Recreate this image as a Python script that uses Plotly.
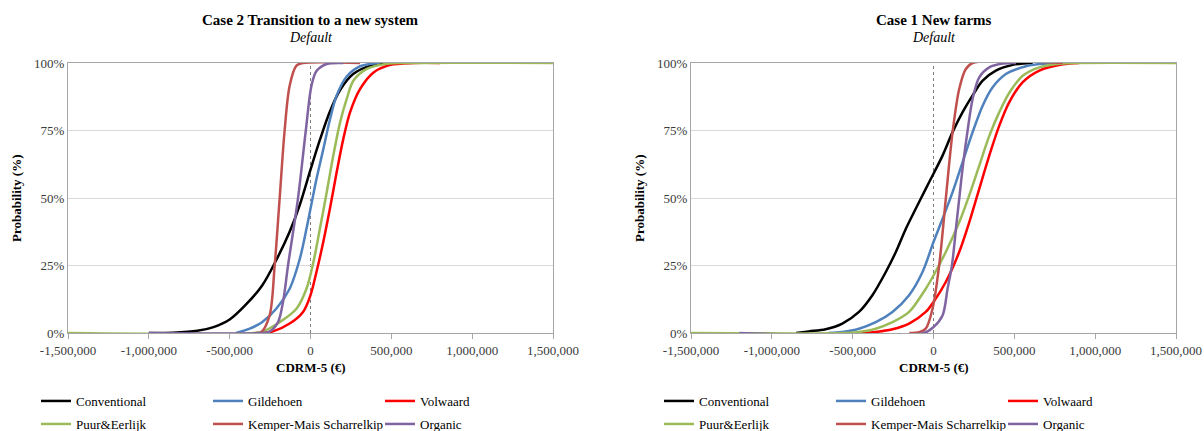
import plotly.graph_objects as go

# ---------------- data: cumulative probability (%) against CDRM-5 (EUR) ----------------
series_names = ["Conventional", "Gildehoen", "Volwaard",
                "Puur&Eerlijk", "Kemper-Mais Scharrelkip", "Organic"]
series_colors = ["#000000", "#4F81BD", "#FF0000", "#9BBB59", "#C0504D", "#8064A2"]

# Case 2 - Transition to a new system
case2_conventional_x = [-1000000, -850000, -700000, -600000, -500000, -400000, -300000, -212000,
                        -129000, -66000, 0, 58000, 120000, 183000, 266000, 390000, 515000]
case2_conventional_p = [0, 0.1, 0.8, 2.2, 5.0, 10.5, 17.5, 27.0, 37.5, 47.5, 60.5, 71.5, 82.0,
                        90.0, 96.0, 99.3, 100]

case2_gildehoen_x = [-460000, -380000, -300000, -212000, -129000, -66000, -25000, 0, 37000,
                     79000, 120000, 162000, 224000, 307000, 432000]
case2_gildehoen_p = [0, 1.5, 4.0, 9.0, 16.4, 27.5, 38.6, 46.0, 57.0, 68.0, 79.0, 88.0, 95.0,
                     98.8, 100]

case2_volwaard_x = [-330000, -232000, -129000, -46000, 0, 37000, 79000, 120000, 162000, 203000,
                    245000, 307000, 390000, 494000, 639000, 800000]
case2_volwaard_p = [0, 0.6, 3.5, 7.8, 14.0, 22.6, 33.7, 46.0, 59.6, 71.9, 81.8, 90.4, 96.5,
                    99.3, 100, 100]

case2_puur_x = [-1500000, -350000, -295000, -191000, -87000, -25000, 17000, 58000, 100000,
                141000, 183000, 224000, 266000, 349000, 473000, 600000, 1500000]
case2_puur_p = [0, 0, 0.6, 4.0, 9.0, 16.4, 26.0, 38.6, 52.0, 65.7, 78.0, 86.7, 93.5, 97.8,
                99.7, 100, 100]

case2_kemper_x = [-340000, -305000, -253000, -222000, -191000, -160000, -129000, -87000,
                  -46000, 307000]
case2_kemper_p = [0, 0.3, 6.5, 24.7, 49.7, 75.0, 91.6, 99.0, 100, 100]

case2_organic_x = [-1000000, -300000, -253000, -201000, -170000, -139000, -77000, -29000,
                   6000, 37000, 100000, 203000]
case2_organic_p = [0, 0, 0.5, 4.0, 11.5, 25.0, 50.0, 75.0, 91.6, 97.0, 99.6, 100]

# Case 1 - New farms
case1_conventional_x = [-850000, -771000, -667000, -564000, -461000, -378000, -295000, -233000,
                        -171000, -110000, -48000, 0, 56000, 118000, 180000, 242000, 304000,
                        386000, 490000, 614000]
case1_conventional_p = [0, 0.6, 1.4, 3.5, 7.8, 14.0, 22.6, 30.0, 38.6, 46.0, 53.4, 59.0, 65.7,
                        74.4, 81.8, 88.0, 93.5, 97.2, 99.3, 100]

case1_gildehoen_x = [-650000, -564000, -461000, -357000, -254000, -151000, -68000, 0, 56000,
                     118000, 180000, 242000, 304000, 366000, 448000, 572000, 655000, 800000]
case1_gildehoen_p = [0, 0.4, 1.6, 4.0, 7.8, 14.0, 22.6, 33.7, 42.3, 52.2, 63.3, 74.4, 84.2,
                     91.0, 95.9, 98.8, 99.6, 100]

case1_volwaard_x = [-450000, -357000, -254000, -151000, -48000, 0, 76000, 159000, 221000,
                    283000, 345000, 407000, 469000, 552000, 655000, 800000, 900000]
case1_volwaard_p = [0, 0.4, 1.4, 3.5, 7.8, 11.5, 18.9, 30.0, 41.0, 53.4, 65.7, 76.8, 85.5,
                    92.9, 97.2, 99.5, 100]

case1_puur_x = [-1500000, -550000, -461000, -357000, -254000, -151000, -48000, 0, 76000,
                159000, 221000, 283000, 345000, 407000, 469000, 552000, 655000, 800000,
                900000, 1500000]
case1_puur_p = [0, 0, 0.4, 1.6, 4.0, 7.8, 16.4, 21.3, 30.0, 41.0, 51.0, 62.0, 73.0, 81.8,
                89.0, 95.3, 98.4, 99.8, 100, 100]

case1_kemper_x = [-150000, -89000, -48000, -6000, 35000, 76000, 118000, 159000, 200000,
                  242000, 800000]
case1_kemper_p = [0, 0.3, 1.6, 9.0, 25.0, 49.7, 74.4, 90.4, 97.8, 100, 100]

case1_organic_x = [-1200000, -60000, 0, 56000, 87000, 114000, 143000, 159000, 184000, 211000,
                   242000, 283000, 345000, 428000, 510000]
case1_organic_p = [0, 0, 2.2, 6.5, 16.4, 25.0, 41.0, 49.7, 63.0, 75.0, 86.7, 94.7, 98.4,
                   99.8, 100]

x_tick_values = [-1500000, -1000000, -500000, 0, 500000, 1000000, 1500000]
y_tick_values = [0, 25, 50, 75, 100]

case2_series = [(case2_conventional_x, case2_conventional_p), (case2_gildehoen_x, case2_gildehoen_p),
                (case2_volwaard_x, case2_volwaard_p), (case2_puur_x, case2_puur_p),
                (case2_kemper_x, case2_kemper_p), (case2_organic_x, case2_organic_p)]
case1_series = [(case1_conventional_x, case1_conventional_p), (case1_gildehoen_x, case1_gildehoen_p),
                (case1_volwaard_x, case1_volwaard_p), (case1_puur_x, case1_puur_p),
                (case1_kemper_x, case1_kemper_p), (case1_organic_x, case1_organic_p)]

# ---------------- layout geometry (pixels) ----------------
W, H = 1204, 431
SERIF = "Liberation Serif"
panels = [
    dict(series=case2_series, xa="x", ya="y", left=68, right=553,
         title="Case 2 Transition to a new system", legends=("legend", "legend2")),
    dict(series=case1_series, xa="x2", ya="y2", left=691, right=1176,
         title="Case 1 New farms", legends=("legend3", "legend4")),
]
plot_top, plot_bottom = 63, 333


def px_x(v):
    return v / W


def px_y(v):
    return 1 - v / H


fig = go.Figure()
annotations = []
shapes = []
layout_axes = {}
legends = {}

for panel in panels:
    for i, ((xs, ps), name, color) in enumerate(zip(panel["series"], series_names, series_colors)):
        fig.add_trace(go.Scatter(
            x=xs, y=ps, mode="lines", name=name,
            line=dict(color=color, width=2.5, shape="spline", smoothing=0.9),
            xaxis=panel["xa"], yaxis=panel["ya"],
            legend=panel["legends"][0] if i < 3 else panel["legends"][1],
            hoverinfo="skip",
        ))

    xkey = "xaxis" if panel["xa"] == "x" else "xaxis2"
    ykey = "yaxis" if panel["ya"] == "y" else "yaxis2"
    layout_axes[xkey] = dict(
        domain=[px_x(panel["left"]), px_x(panel["right"])],
        range=[-1500000, 1500000], anchor=panel["ya"],
        tickvals=x_tick_values, ticktext=[f"{v:,}" for v in x_tick_values],
        showgrid=False, zeroline=False, showline=True, mirror=True,
        linecolor="#A6A6A6", linewidth=1, ticks="outside", ticklen=5,
        tickcolor="#A6A6A6", tickfont=dict(family=SERIF, size=13, color="#3a3a3a"),
        fixedrange=True,
    )
    layout_axes[ykey] = dict(
        domain=[px_y(plot_bottom), px_y(plot_top)],
        range=[0, 100], anchor=panel["xa"],
        tickvals=y_tick_values, ticktext=[f"{v}%" for v in y_tick_values],
        showgrid=True, gridcolor="#D9D9D9", gridwidth=1, zeroline=False,
        showline=True, mirror=True, linecolor="#A6A6A6", linewidth=1,
        ticks="", tickfont=dict(family=SERIF, size=13, color="#3a3a3a"),
        fixedrange=True,
    )

    cx = px_x((panel["left"] + panel["right"]) / 2)
    common = dict(xref="paper", yref="paper", showarrow=False, xanchor="center", yanchor="middle")
    annotations += [
        dict(text="<b>" + panel["title"] + "</b>", x=cx, y=px_y(20),
             font=dict(family=SERIF, size=15, color="#000"), **common),
        dict(text="<i>Default</i>", x=cx, y=px_y(38),
             font=dict(family=SERIF, size=14, color="#000"), **common),
        dict(text="<b>CDRM-5 (€)</b>", x=cx, y=px_y(367),
             font=dict(family=SERIF, size=13, color="#000"), **common),
        dict(text="<b>Probability (%)</b>", x=px_x(panel["left"] - 51),
             y=px_y((plot_top + plot_bottom) / 2), textangle=-90,
             font=dict(family=SERIF, size=13, color="#000"), **common),
    ]

    # dotted reference line at zero
    shapes.append(dict(type="line", xref=panel["xa"], yref=panel["ya"], x0=0, x1=0, y0=0, y1=100,
                       line=dict(color="#7F7F7F", width=1, dash="dot"), layer="below"))

    for row, (lg, ypix) in enumerate(zip(panel["legends"], (401, 424))):
        legends[lg] = dict(
            orientation="h", x=px_x(panel["left"] - 32), xanchor="left",
            y=px_y(ypix), yanchor="middle", entrywidth=127, entrywidthmode="pixels",
            font=dict(family=SERIF, size=13, color="#000"), bgcolor="rgba(0,0,0,0)",
            tracegroupgap=0, itemwidth=30,
        )

fig.update_layout(
    width=W, height=H, autosize=False,
    margin=dict(l=0, r=0, t=0, b=0, pad=0, autoexpand=False),
    font=dict(family=SERIF, size=13, color="#000"),
    paper_bgcolor="white", plot_bgcolor="white",
    showlegend=True,
    annotations=annotations, shapes=shapes,
    **layout_axes, **legends,
)

fig.write_html("out.html")
